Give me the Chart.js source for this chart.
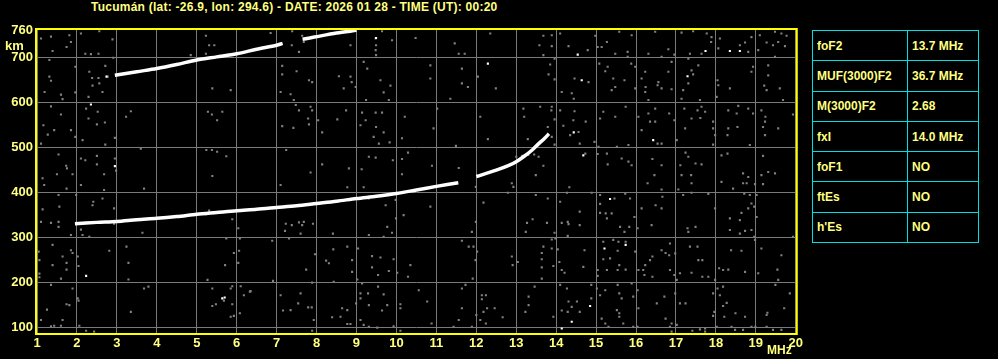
<!DOCTYPE html>
<html>
<head>
<meta charset="utf-8">
<script src="https://cdn.jsdelivr.net/npm/chart.js@4"></script>
<style>
body{margin:0;background:#000;width:998px;height:359px;overflow:hidden;position:relative;font-family:"Liberation Sans",Arial,sans-serif;}
#title{position:absolute;left:91px;top:0;color:#ffff80;font-weight:bold;font-size:12px;line-height:14px;letter-spacing:0.25px;white-space:nowrap;}
#wrap{position:absolute;left:0;top:0;width:806px;height:359px;}
.unit{position:absolute;color:#ffff80;font-weight:bold;font-size:13px;line-height:14px;}
#params{position:absolute;left:812px;top:30px;border-collapse:collapse;table-layout:fixed;}
#params td{border:1px solid #00e0e0;height:30.3px;color:#ffff80;font-weight:bold;font-size:12px;padding:0 0 0 4px;box-sizing:border-box;}
</style>
</head>
<body>
<div id="title"></div>
<div id="wrap"><canvas id="ionogram" width="806" height="359"></canvas></div>
<div class="unit" style="left:5px;top:39px;">km</div>
<div class="unit" style="left:767px;top:343px;font-size:12px;">MHz</div>
<table id="params"><colgroup><col style="width:95px"><col style="width:71px"></colgroup><tbody></tbody></table>
<script>
// Cabeçalho
const titleText = 'Tucumán (lat: -26.9, lon: 294.6) - DATE: 2026 01 28 - TIME (UT): 00:20';

// Eixos
const freqTicks = [1, 2, 3, 4, 5, 6, 7, 8, 9, 10, 11, 12, 13, 14, 15, 16, 17, 18, 19, 20];
const heightTicks = [100, 200, 300, 400, 500, 600, 700, 760];

// Parâmetros escalados
const paramNames = ['foF2', 'MUF(3000)F2', 'M(3000)F2', 'fxI', 'foF1', 'ftEs', "h'Es"];
const paramValues = ['13.7 MHz', '36.7 MHz', '2.68', '14.0 MHz', 'NO', 'NO', 'NO'];

// Traço F2 (1 salto) - null = falha no traço
const f2Freq = [1.95, 2.5, 3.0, 3.5, 4.0, 4.5, 5.0, 5.5, 6.0, 6.5, 7.0, 7.5, 8.0, 8.5, 9.0, 9.5, 10.0, 10.5, 11.0, 11.55, 11.8, 12.0, 12.5, 12.8, 13.0, 13.2, 13.4, 13.55, 13.7, 13.82];
const f2Height = [330, 333, 335, 339, 342, 346, 351, 355, 359, 362, 366, 370, 375, 380, 386, 391, 397, 405, 413, 421, null, 435, 449, 459, 468, 480, 494, 507, 519, 530];

// Traço F2 (2 saltos)
const f2HopFreq = [2.95, 3.5, 4.0, 4.5, 5.0, 5.5, 6.0, 6.5, 7.0, 7.15, 7.4, 7.65, 7.95, 8.5, 9.0];
const f2HopHeight = [660, 668, 675, 684, 694, 701, 708, 718, 727, 731, null, 740, 745, 754, 760];

// Ruído (cinza)
const noisePoints = [
  [1.1,742],[1.35,746],[1.81,749],[2.1,753],[2.56,758],[2.89,740],[1.85,734],[1.39,714],[1.74,723],[2.21,708],[2.35,707],[2.54,708],
  [2.91,699],[1.31,694],[1.96,679],[2.31,668],[2.38,654],[2.54,654],[2.77,657],[2.71,681],[1.31,657],[1.35,648],[2.39,637],[2.56,642],
  [2.64,623],[2.29,612],[1.6,617],[1.64,607],[1.19,623],[1.96,622],[1.35,591],[2.23,586],[1.6,573],[2.52,579],[3.23,568],[3.35,580],
  [2.29,564],[2.7,555],[2.5,551],[1.16,549],[1.43,538],[1.27,528],[1.96,523],[1.85,538],[1.1,508],[2.14,516],[2.71,506],[2.95,521],
  [1.54,484],[2.1,475],[2.5,481],[2.21,471],[1.73,459],[1.75,453],[2.5,462],[2.95,475],[2.98,448],[1.5,440],[1.14,431],[1.89,440],
  [2.68,440],[3.6,497],[5.23,748],[5.31,727],[5.44,727],[5.23,708],[5.39,631],[5.85,627],[5.28,579],[5.38,573],[5.51,560],[5.64,579],
  [5.24,494],[5.38,494],[5.51,490],[5.74,480],[5.39,436],[4.85,705],[5.54,701],[6.85,754],[7.39,758],[7.64,748],[7.68,734],[7.56,712],
  [7.38,727],[7.14,681],[7.14,662],[7.5,669],[7.81,649],[7.89,645],[7.1,623],[7.35,618],[7.43,605],[7.48,594],[7.56,582],[7.89,582],
  [7.85,590],[7.79,564],[7.81,551],[7.14,547],[7.42,543],[8.04,560],[8.14,533],[8.52,562],[8.74,582],[8.56,658],[8.85,657],[8.88,645],
  [8.68,631],[8.98,634],[8.85,727],[9.48,742],[9.49,727],[9.48,716],[9.49,705],[9.64,758],[9.89,738],[10.48,743],[9.18,690],[9.27,675],
  [9.6,649],[9.85,637],[9.68,622],[9.81,605],[9.24,605],[9.14,577],[9.48,577],[9.64,577],[9.1,549],[9.23,560],[9.49,545],[9.68,533],
  [9.43,523],[9.56,508],[9.83,511],[10.14,520],[10.21,568],[8.14,462],[7.85,444],[8.81,453],[9.13,451],[9.31,479],[9.48,477],[9.91,471],
  [10.14,474],[10.29,488],[10.14,440],[7.24,494],
  [12.35,753],[11.46,731],[11.56,708],[11.71,708],[10.85,682],[10.85,653],[11.64,675],[11.64,642],[11.79,634],[11.35,608],[12.04,657],
  [12.49,631],[13.68,748],[13.89,749],[14.1,753],[13.58,727],[13.68,705],[13.89,725],[13.85,684],[13.81,662],[13.96,651],[13.96,697],
  [14.31,725],[14.98,748],[15.04,723],[14.79,716],[15.14,723],[15.27,734],[15.58,757],[15.89,749],[15.79,712],[15.79,701],[15.48,708],
  [15.08,686],[15.29,679],[15.23,669],[15.43,653],[15.71,649],[15.88,686],[15.98,679],[15.48,634],[15.39,627],[15.98,631],[14.46,653],
  [14.81,645],[14.14,623],[14.39,620],[14.44,608],[16.31,708],[16.48,757],[16.64,701],[16.81,718],[16.96,706],[17.14,755],[17.35,708],
  [17.31,697],[17.43,758],[17.39,671],[17.43,662],[17.56,682],[17.77,753],[17.88,734],[17.89,745],[18.06,720],[18.1,742],[18.6,727],
  [18.81,712],[18.89,745],[18.73,733],[19.1,749],[19.27,733],[19.43,727],[19.48,757],[19.56,734],[19.64,753],[19.73,725],[19.77,748],
  [19.48,701],[19.31,682],[19.31,660],[18.93,679],[18.89,668],[19.27,627],[19.21,637],[19.6,631],[19.68,605],[18.04,649],[18.06,638],
  [18.35,631],[18.02,612],[17.6,605],[17.31,642],[17.18,627],[17.14,608],[16.23,668],[16.14,653],[16.56,645],[16.54,638],[16.24,634],
  [16.23,623],[16.31,605],[16.64,631],[16.89,629],[16.81,668],[16.89,690],[19.06,716],[17.64,708],
  [11.02,586],[10.93,542],[12.1,568],[12.29,518],[11.49,503],[11.56,454],[10.89,459],[13.18,586],[13.2,568],[13.6,590],[13.89,590],
  [13.88,582],[14.1,582],[13.96,562],[13.79,545],[13.89,523],[13.96,506],[13.29,518],[13.56,479],[13.68,459],[13.49,438],[14.18,548],
  [14.35,527],[14.46,580],[14.43,560],[14.56,534],[14.74,557],[14.59,508],[14.73,486],[14.96,512],[15.04,485],[15.1,564],[15.18,579],
  [15.06,501],[15.27,486],[15.29,462],[15.48,568],[15.52,501],[15.64,475],[15.81,505],[15.81,468],[15.89,460],[15.74,590],[16.06,568],
  [16.14,538],[16.31,575],[16.35,557],[16.48,586],[16.48,557],[16.54,508],[16.64,508],[16.41,474],[16.64,460],[16.46,438],[16.83,575],
  [16.96,560],[17.02,516],[17.11,460],[17.14,438],[17.21,586],[17.23,542],[17.24,488],[17.31,479],[17.38,438],[17.49,464],[17.64,462],
  [17.39,564],[17.61,565],[17.54,582],[17.64,590],[17.73,579],[17.93,557],[17.93,542],[17.98,527],[17.93,506],[18.14,482],[18.29,486],
  [18.31,542],[18.29,527],[18.52,575],[18.54,545],[18.68,442],[18.81,434],[18.85,505],[18.93,575],[19.14,582],[19.24,568],[19.23,557],
  [19.18,545],[19.23,527],[19.56,542],[19.31,445],[19.14,438],[19.18,481],[19.48,442],[19.93,573],[18.31,582],[18.56,592],[18.81,586],
  [1.18,416],[1.74,408],[2.1,416],[1.98,394],[1.54,394],[1.1,334],[1.35,332],[1.54,334],[1.54,323],[1.85,305],[2.14,305],[2.31,301],
  [2.1,317],[2.41,379],[2.39,371],[2.64,386],[1.14,362],[1.56,368],[2.93,364],[3.64,310],[3.68,408],[2.68,405],[2.93,330],[1.04,268],
  [1.06,249],[1.06,219],[1.06,211],[1.39,283],[1.39,238],[1.64,257],[1.74,243],[1.74,228],[1.85,271],[1.89,265],[2.02,257],[2.04,236],
  [1.6,208],[2.81,270],[3.24,279],[3.29,243],[3.29,206],[1.35,194],[1.89,186],[2.02,164],[2.04,159],[1.81,149],[1.74,151],[1.25,139],
  [1.1,116],[1.35,102],[1.43,103],[1.6,103],[1.64,116],[2.23,92],[2.06,103],[2.43,90],[3.35,134],[3.68,186],[3.79,190],[5.27,205],
  [5.39,186],[5.85,186],[5.89,191],[5.68,159],[5.48,151],[5.39,147],[5.89,151],[5.93,125],[6.1,191],[6.18,171],[6.35,180],[5.85,123],
  [5.71,238],[5.93,265],[6.06,270],[6.04,243],[6.08,297],[6.04,320],[5.89,340],[5.74,297],[5.23,351],[5.31,359],[7.1,416],[6.89,292],
  [7.31,297],[7.23,330],[7.38,327],[7.21,314],[7.56,333],[7.64,327],[7.6,308],[7.68,334],[7.91,330],[8.41,308],[8.77,411],[9.18,411],
  [9.31,386],[9.73,371],[9.98,383],[9.77,323],[9.89,310],[9.68,301],[9.31,305],[9.99,342],[10.18,349],[8.77,279],[9.04,275],[9.39,258],
  [9.6,255],[9.93,251],[9.39,233],[9.54,216],[9.81,225],[10.02,221],[8.89,249],[8.89,223],[8.24,248],[7.96,262],[7.74,228],[10.29,212],
  [10.35,238],[9.02,206],[9.14,197],[9.54,190],[9.68,173],[9.29,175],[9.1,175],[9.1,164],[9.31,149],[9.64,137],[9.77,149],[10.1,151],
  [10.1,142],[8.99,153],[8.64,142],[8.77,138],[8.6,123],[8.39,122],[8.77,107],[8.85,107],[9.18,105],[9.1,116],[9.31,101],[9.52,99],
  [9.93,102],[10.1,92],[7.89,92],[7.93,116],[7.88,144],[7.79,144],[7.35,138],[7.6,175],[7.54,153],[6.91,203],[7.1,171],[7.16,137],
  [8.43,201],[8.42,273],[8.31,242],[7.89,199],[6.08,131],[6.33,179],
  [10.85,368],[11.99,412],[12.18,377],[12.89,420],[12.93,412],[12.79,399],[13.49,394],[13.79,386],[14.1,379],[14.33,411],[14.27,399],
  [14.59,357],[14.89,399],[15.1,394],[15.1,374],[15.24,353],[15.27,342],[15.39,353],[15.1,354],[15.46,386],[15.73,397],[15.85,386],
  [15.96,345],[15.83,323],[15.6,323],[15.71,312],[16.04,320],[16.29,420],[16.64,406],[16.66,390],[16.49,371],[16.64,364],[16.14,364],
  [16.39,327],[17.06,406],[17.18,394],[17.39,420],[17.39,399],[17.81,396],[17.98,364],[18.14,423],[18.43,408],[18.68,420],[18.71,397],
  [18.77,420],[18.98,418],[19.02,394],[18.85,394],[18.89,375],[18.96,368],[19.02,345],[18.81,364],[18.64,354],[18.6,338],[18.35,342],
  [18.35,316],[18.6,308],[18.73,314],[18.96,301],[19.18,418],[17.29,320],[17.49,323],[17.31,312],[13.41,340],[13.27,332],[13.24,312],
  [13.77,332],[14.14,332],[14.29,334],[14.31,329],[14.59,327],[13.96,310],[14.29,303],[13.89,295],[13.68,279],[13.64,265],[13.89,275],
  [13.64,251],[13.64,233],[13.64,208],[13.93,236],[13.98,297],[14.04,273],[14.08,245],[14.14,227],[14.21,221],[14.1,194],[14.27,186],
  [14.39,145],[14.52,157],[14.31,157],[14.29,134],[14.14,137],[14.59,134],[14.71,271],[14.68,234],[14.88,194],[15.04,227],[15.04,214],
  [15.02,186],[15.1,171],[15.23,182],[15.18,290],[15.18,251],[15.35,253],[15.27,227],[15.54,270],[15.54,227],[15.58,238],[15.74,228],
  [15.74,290],[15.43,294],[15.56,290],[15.98,268],[16.06,227],[16.18,227],[16.23,238],[16.35,249],[16.41,257],[16.41,212],[16.21,216],
  [16.04,182],[15.93,168],[15.89,197],[15.54,194],[15.58,175],[15.64,164],[15.52,138],[15.58,131],[15.14,119],[15.23,108],[15.31,101],
  [15.58,123],[15.68,108],[15.93,101],[16.04,101],[16.06,142],[16.64,271],[16.74,265],[16.85,286],[16.83,260],[16.98,264],[16.85,227],
  [16.96,216],[17.02,205],[17.1,220],[16.98,175],[16.71,168],[16.52,153],[16.74,119],[16.89,108],[17.02,105],[17.1,153],[17.24,153],
  [17.35,279],[17.56,249],[17.66,249],[17.54,279],[17.81,212],[17.66,212],[17.39,221],[17.98,205],[18.08,231],[18.18,227],[18.31,228],
  [18.38,271],[18.64,270],[18.73,223],[19.06,220],[19.54,228],[19.56,205],[19.64,260],[19.49,194],[19.85,175],[19.71,142],[19.29,132],
  [19.27,127],[18.73,123],[18.49,131],[18.27,154],[18.18,147],[18.1,171],[18.04,186],[17.93,175],[18.18,190],[17.96,134],[17.93,125],
  [18.21,123],[17.73,90],[18.02,101],[18.39,101],[18.48,94],[18.68,94],[18.89,101],[18.99,101],[19.27,101],[19.43,94],[19.64,94],
  [16.85,101],[16.89,90],[17.41,92],[17.6,95],[17.73,97],[19.93,301],[18.98,294],[19.14,275],[18.89,316],[12.14,171],[12.24,171],
  [12.14,162],[12.27,142],[12.46,142],[12.66,122],[12.18,134],[12.1,116],[12.24,108],[11.64,142],[11.56,116],[10.88,108],[10.56,182],
  [10.77,157],[11.43,101],[11.89,101],[12.0,127],[11.73,194],[11.64,186],[12.02,268],[11.93,279],[11.81,279],[11.64,292],[11.91,208],
  [11.98,249],[12.89,257],[13.04,245],[12.91,238],[11.99,334],[11.89,312],[13.23,134],[13.31,168],[13.46,190],[13.93,123],[14.88,164],
  [13.31,149],[13.0,479],[13.15,481],[13.3,483],[13.45,484]
];

// Ruído (branco)
const whitePoints = [
  [2.35,595],[2.95,458],[2.23,214],[5.64,164],[5.7,166],[12.29,686],[14.54,706],[17.29,658],[17.74,714],[18.35,714],[18.6,714],[14.64,649],
  [14.44,533],[14.68,482],[16.43,516],[15.35,385],[15.74,283],[15.21,275],[14.14,97],[14.39,112],[14.85,147],[9.49,743],[2.74,657]
];

const toXY = (xs, ys) => xs.map((x, i) => ({ x: x, y: ys[i] }));
const pairsToXY = pts => pts.map(p => ({ x: p[0], y: p[1] }));

const textColor = '#ffff80';
const gridColor = '#7a7a7a';
const tickFont = { family: '"Liberation Sans", Arial, sans-serif', size: 13, weight: 'bold' };

// Moldura amarela
const framePlugin = {
    id: 'frame',
    afterDraw(chart) {
        const a = chart.chartArea;
        const ctx = chart.ctx;
        ctx.save();
        ctx.strokeStyle = '#ffff00';
        ctx.lineWidth = 2;
        ctx.strokeRect(a.left - 1, a.top, a.right - a.left + 2, a.bottom - a.top + 1);
        ctx.restore();
    }
};

document.addEventListener('DOMContentLoaded', () => {
    document.getElementById('title').textContent = titleText;

    const tbody = document.querySelector('#params tbody');
    paramNames.forEach((name, i) => {
        const tr = document.createElement('tr');
        const td1 = document.createElement('td');
        const td2 = document.createElement('td');
        td1.textContent = name;
        td2.textContent = paramValues[i];
        tr.appendChild(td1);
        tr.appendChild(td2);
        tbody.appendChild(tr);
    });

    const ctx = document.getElementById('ionogram').getContext('2d');
    new Chart(ctx, {
        type: 'scatter',
        data: {
            datasets: [
                {
                    type: 'line',
                    data: toXY(f2Freq, f2Height),
                    borderColor: '#ffffff',
                    borderWidth: 3.5,
                    pointRadius: 0,
                    tension: 0.3,
                    spanGaps: false,
                    order: 1
                },
                {
                    type: 'line',
                    data: toXY(f2HopFreq, f2HopHeight),
                    borderColor: '#ffffff',
                    borderWidth: 3.5,
                    pointRadius: 0,
                    tension: 0.3,
                    spanGaps: false,
                    order: 1
                },
                {
                    data: pairsToXY(whitePoints),
                    pointStyle: 'rect',
                    pointRadius: 1.5,
                    backgroundColor: '#ffffff',
                    borderWidth: 0,
                    order: 2
                },
                {
                    data: pairsToXY(noisePoints),
                    pointStyle: 'rect',
                    pointRadius: 1.5,
                    backgroundColor: '#808080',
                    borderWidth: 0,
                    order: 3
                }
            ]
        },
        options: {
            responsive: false,
            animation: false,
            events: [],
            layout: { padding: { top: 29, right: 9, left: 0, bottom: 0 } },
            plugins: {
                legend: { display: false },
                tooltip: { enabled: false }
            },
            scales: {
                x: {
                    type: 'linear',
                    min: 1,
                    max: 20,
                    afterBuildTicks: s => { s.ticks = freqTicks.map(v => ({ value: v })); },
                    afterFit: s => { s.height = 26; },
                    ticks: { color: textColor, font: tickFont, padding: 3, maxRotation: 0, autoSkip: false },
                    grid: { color: gridColor, lineWidth: 1, drawTicks: false },
                    border: { display: false }
                },
                y: {
                    type: 'linear',
                    min: 87,
                    max: 763,
                    afterBuildTicks: s => { s.ticks = heightTicks.map(v => ({ value: v })); },
                    afterFit: s => { s.width = 37; },
                    ticks: { color: textColor, font: tickFont, padding: 4, autoSkip: false },
                    grid: {
                        color: c => (c.tick && c.tick.value === 760) ? 'rgba(0,0,0,0)' : gridColor,
                        lineWidth: 1,
                        drawTicks: false
                    },
                    border: { display: false }
                }
            }
        },
        plugins: [framePlugin]
    });
});
</script>
</body>
</html>
